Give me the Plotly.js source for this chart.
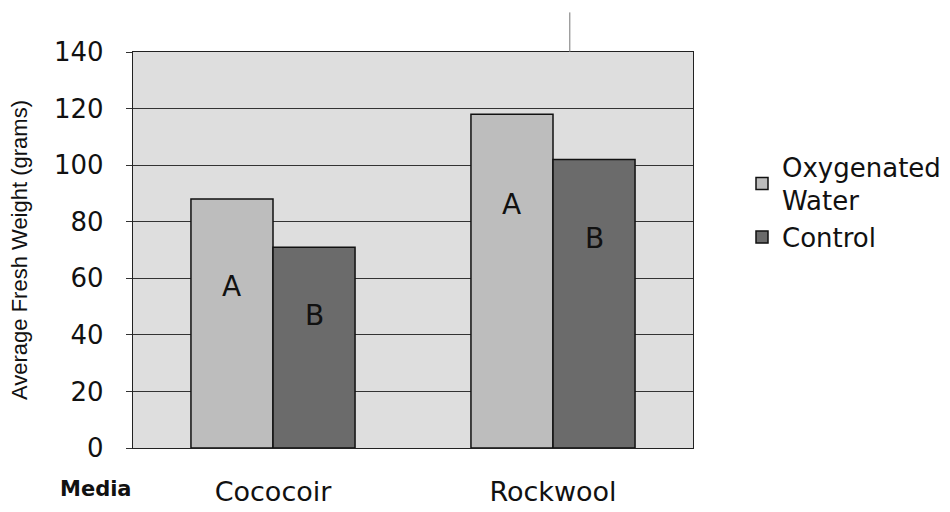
<!DOCTYPE html>
<html>
<head>
<meta charset="utf-8">
<script src="https://cdn.plot.ly/plotly-3.0.1.min.js"></script>
<style>html,body{margin:0;padding:0;background:#fff;}#chart{width:950px;height:512px;}</style>
</head>
<body>
<div id="chart"></div>
<script>
const categories = ["Cococoir", "Rockwool"];
const seriesNames = ["Oxygenated<br>Water", "Control"];
const oxygenated = [88, 118];
const control = [71, 102];
const letterOxy = ["A", "A"];
const letterCtl = ["B", "B"];
const letterOxyY = [57, 86];
const letterCtlY = [47, 74];
const yTicks = [0, 20, 40, 60, 80, 100, 120, 140];

const WIDE = "DejaVu Sans, Verdana, sans-serif";
const ARIAL = "Liberation Sans, Arial, sans-serif";

const traces = [
  {type: "bar", name: seriesNames[0], x: categories, y: oxygenated,
   marker: {color: "#bdbdbd", line: {color: "#111", width: 1.5}}},
  {type: "bar", name: seriesNames[1], x: categories, y: control,
   marker: {color: "#6b6b6b", line: {color: "#111", width: 1.5}}}
];

const annotations = [];
categories.forEach((c, i) => {
  annotations.push({x: c, y: letterOxyY[i], xref: "x", yref: "y", text: letterOxy[i], showarrow: false,
    xshift: -42, font: {family: WIDE, size: 28, color: "#111"}});
  annotations.push({x: c, y: letterCtlY[i], xref: "x", yref: "y", text: letterCtl[i], showarrow: false,
    xshift: 41, font: {family: WIDE, size: 28, color: "#111"}});
});
annotations.push({xref: "paper", yref: "paper", x: -0.066, y: -0.1035, xanchor: "center", yanchor: "middle",
  text: "<b>Media</b>", showarrow: false, font: {family: WIDE, size: 21, color: "#111"}});

const layout = {
  width: 950, height: 512,
  margin: {l: 133, r: 257, t: 52, b: 64, autoexpand: false},
  paper_bgcolor: "#ffffff",
  plot_bgcolor: "#dedede",
  bargap: 0.414, bargroupgap: 0,
  barmode: "group",
  font: {family: WIDE, color: "#111"},
  xaxis: {type: "category", showgrid: false, zeroline: false,
    showline: true, linecolor: "#222", linewidth: 1, mirror: true,
    ticks: "outside", ticklen: 20, tickcolor: "rgba(0,0,0,0)",
    tickfont: {family: WIDE, size: 27, color: "#111"}},
  yaxis: {range: [0, 140], tickvals: yTicks, showgrid: true, gridcolor: "#333", gridwidth: 1,
    zeroline: false, showline: true, linecolor: "#222", linewidth: 1.2, mirror: true,
    ticks: "outside", ticklen: 6, tickcolor: "#333", ticklabelstandoff: 17,
    tickfont: {family: WIDE, size: 26, color: "#111"},
    title: {text: "Average Fresh Weight (grams)", font: {family: ARIAL, size: 22, color: "#111"}, standoff: 20}},
  legend: {x: 1.0875, y: 0.77, xanchor: "left", yanchor: "top", bgcolor: "rgba(0,0,0,0)",
    font: {family: WIDE, size: 26, color: "#111"}, tracegroupgap: 0, itemwidth: 30},
  showlegend: true,
  annotations: annotations,
  shapes: [{type: "line", xref: "paper", yref: "paper", x0: 0.78, x1: 0.78, y0: 1.0, y1: 1.1,
    line: {color: "#777", width: 1}}]
};

Plotly.newPlot("chart", traces, layout, {displayModeBar: false, staticPlot: true});
</script>
</body>
</html>
